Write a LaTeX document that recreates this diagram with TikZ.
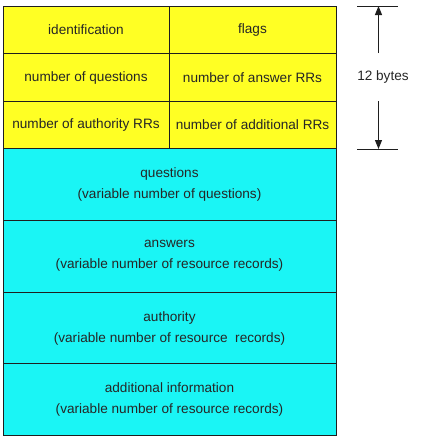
\documentclass[tikz,border=0pt]{standalone}
\usepackage{fontspec}
\setmainfont{Liberation Sans}
\usetikzlibrary{arrows.meta}
\definecolor{hdryellow}{RGB}{255,255,36}
\definecolor{seccyan}{RGB}{26,245,245}
\definecolor{edge}{RGB}{30,30,30}
\begin{document}
\begin{tikzpicture}[x=1pt,y=-1pt,
  lbl/.style={font=\fontsize{13.6}{21}\selectfont,text=black!85},
  cell/.style={lbl,draw=edge,line width=0.9pt,inner sep=0pt,align=center},
  hdr/.style={cell,fill=hdryellow,minimum height=48pt},
  sec/.style={cell,fill=seccyan,minimum width=333pt,minimum height=72pt},
  tick/.style={draw=edge,line width=0.9pt},
  span/.style={draw=edge,line width=0.9pt,-{Triangle[length=9pt,width=7pt]}}]
\useasboundingbox (0,0) rectangle (430,437);
% fixed-size header: six 16-bit fields
\node[hdr,minimum width=166pt] (ident)  at (86,30)      {identification};
\node[hdr,minimum width=167pt] (flags)  at (252.5,30)   {flags};
\node[hdr,minimum width=166pt] (nq)     at (86,77.5)    {number of questions};
\node[hdr,minimum width=167pt] (nans)   at (252.5,77.5) {number of answer RRs};
\node[hdr,minimum width=166pt] (nauth)  at (86,125)     {number of authority RRs};
\node[hdr,minimum width=167pt] (nadd)   at (252.5,125)  {number of additional RRs};
% variable-length sections
\node[sec] (quest) at (169.5,184.5) {questions\\(variable number of questions)};
\node[sec] (ans)   at (169.5,256)   {answers\\(variable number of resource records)};
\node[sec] (auth)  at (169.5,328)   {authority\\(variable number of resource\ \ records)};
\node[sec] (addl)  at (169.5,399.5) {additional information\\(variable number of resource records)};
% size bracket for the header
\coordinate (tl) at (357,6);   \coordinate (tr) at (398,6);
\coordinate (bl) at (357,149); \coordinate (br) at (398,149);
\coordinate (ttop) at (378.5,6);  \coordinate (tbot) at (378.5,149);
\coordinate (aup) at (378.5,53);  \coordinate (adn) at (378.5,101);
\draw[tick] (tl) -- (tr);
\draw[tick] (bl) -- (br);
\draw[span] (aup) -- (ttop);
\draw[span] (adn) -- (tbot);
\node[lbl] (size) at (383,77) {12 bytes};
\end{tikzpicture}
\end{document}
